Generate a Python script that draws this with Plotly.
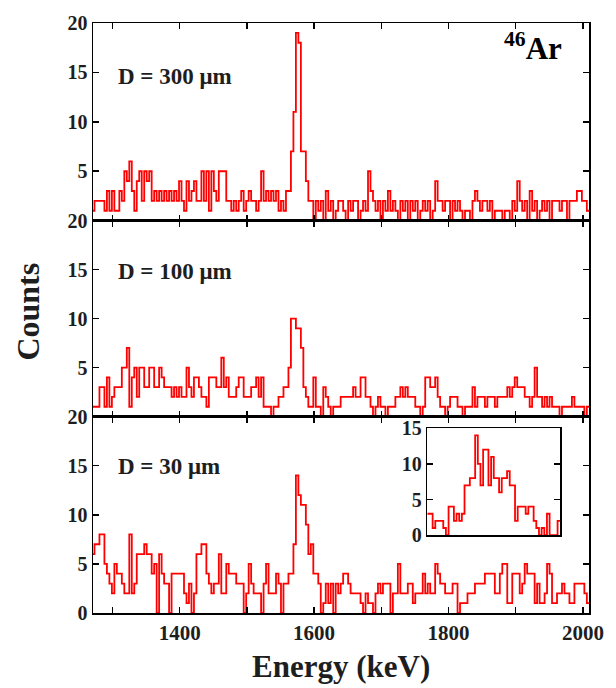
import plotly.graph_objects as go

# ---------------- data ----------------
energy_start = 1269.5  # keV, left edge of first bin
bin_width = 3.7        # keV

counts_300 = [1,2,2,2,2,1, 3,1,3,1,1,3, 2,5,4,6,3, 1, 4,5,2,5,4,5,2,3,
              2,3,2,3,2,3, 2,3,2,4,2,1,4,2,3,4,2,2, 5,2,5,1,5,3,2,5,5,5,
              2,2,1,2,1,2, 3,1,2,3,2,2,1,2, 5, 2,3,2,3,2,3,1,2,1,
              3,3,7,11,19,18,7,7,4,2,
              2,0,2,1,2,0,3,1,2,0,1,2, 2,1,0,2,1,2,2,0,1,2,1, 5,3,
              2,1,2,0,2,1,3,1, 2,1,0,2,1,2,0,2,1,2,0,1,2,1,2,0,1, 4,
              2,2,1,2,2,0,2,1, 2,1,0,1,1,0, 2,3,2,1,2, 2,1,2,0,1,1,
              1,0,1,1,0,2,1, 4, 2,1,2,0, 3, 1,2,0,1,2,1,2,0,2,2,
              2,1,2,2,0,2,2,2,3, 3,2,2,1]

counts_100 = [1,1,1, 3,3, 1, 4, 1, 2, 3,3,3, 5,5, 7, 1, 4, 5, 2, 5,5, 3,
              3,5,5, 3,3, 5, 4, 3,3,3, 2,3,2, 3,2,2, 5, 3, 2, 4,4, 3, 2,2, 1,
              4,4,4, 3,3, 6, 3, 4, 2,2,2, 3, 4,4,2, 2,2,3, 3,4, 2, 4,1,
              1,1,0,1,1, 2,2, 3, 3,
              5,10,10,9,9,7,3,2,1,1,
              4,1, 1,0, 3, 2, 1,0,1, 1,1,2, 2,2,2,2, 3, 2,2, 4,4,2,2,
              1,0,1, 2, 1,1,0,1,1,1, 2,2, 3, 2, 3,2, 2,2,1, 1,0,1,
              4,4, 3,3, 4, 2, 1,1,0,1, 2,2,2, 1,1,0,1,1,1, 3, 1, 2,
              2,2,1,2,2,2,1,2,2,2,2, 3,2,3, 4,3, 3,3,2, 2,1,2, 5,
              2,2,1, 2,1,2,1, 1,1,0,1,1,1,1, 2, 1,1,1,1,0,1]

counts_30 = [6, 7,7, 8,8, 5, 4, 3,2, 5,4,4,3, 2,2, 8, 2, 3, 6,6,6, 7, 6,6,
             4, 5, 0, 6, 4, 3,3, 0, 4,4,4,4,4, 2, 1, 3, 0, 2, 6, 6,7,7,
             4, 3, 2, 3,3, 6, 2,2, 5, 4,4,4, 3,3,3, 0, 2, 5, 3, 2,2,2, 0,
             3, 5, 2,2,2, 4,3, 0, 3,
             3,4,4,7,14,12,11,11,9,6,7,4,4,3,0,1,
             3,1,3,0,3,2,3,4,4,3,2,2,2,2,1,0,2,1,1,0,
             2,3,2,3,3, 3, 0, 2,2, 5, 2,2,2, 3,3, 1, 2,2,2, 4, 2, 3, 2,
             2, 5, 4, 3, 3,2, 2,2, 3,3, 0, 1,1,1, 2,2,2, 3,3,3,3,
             4,4,4,4, 2,2, 4, 5,5, 1,1, 4,4,4, 2, 3, 5, 4,4,4, 1, 3,
             1,1, 2, 5, 4, 1,1, 2,2, 3, 2,2, 1,1, 3,3,3,3, 2, 1]

inset_start = 1530    # keV
inset_bin = 2         # keV
inset_counts = [3,3,1,2,2,2,1,0,4,4,2,3,2,3,7,7,8,8,14,10,7,12,12,7,11,
                8,8,6,8,8,9,7,7,2,4,4,4,3,4,4,2,1,0,1,0,3,0,0,0,2]

panel_labels = ["D = 300 μm", "D = 100 μm", "D = 30 μm"]
x_range = [1271, 2009]
x_tickvals = [1400, 1600, 1800, 2000]
x_ticktext = ["1400", "1600", "1800", "2000"]
x_minor_tick0 = 1300
x_minor_step = 100
y_tickvals_upper = [5, 10, 15, 20]
y_tickvals_lower = [0, 5, 10, 15, 20]
inset_y_tickvals = [0, 5, 10, 15]

# ---------------- figure ----------------
FONT = "Liberation Serif"
RED = "#ff0000"
INK = "#1e1e1e"


def step_xy(start, width, vals):
    xs = [start + width * i for i in range(len(vals) + 1)]
    ys = list(vals) + [vals[-1]]
    return xs, ys


fig = go.Figure()
series = [counts_300, counts_100, counts_30]
for k, vals in enumerate(series):
    xs, ys = step_xy(energy_start, bin_width, vals)
    fig.add_trace(go.Scatter(
        x=xs, y=ys, mode="lines", line=dict(color=RED, width=1.8, shape="hv"),
        xaxis="x" if k == 0 else f"x{k+1}", yaxis="y" if k == 0 else f"y{k+1}",
        showlegend=False, hoverinfo="skip"))

xs, ys = step_xy(inset_start, inset_bin, inset_counts)
fig.add_trace(go.Scatter(
    x=xs, y=ys, mode="lines", line=dict(color=RED, width=1.8, shape="hv"),
    xaxis="x4", yaxis="y4", showlegend=False, hoverinfo="skip"))

tickfont = dict(family=FONT, size=20, color=INK, weight="bold")
xtickfont = dict(family=FONT, size=21, color=INK, weight="bold")

domains = [[0.665, 1.0], [0.333, 0.665], [0.0, 0.333]]
layout = dict(
    width=616, height=688,
    margin=dict(l=93, r=20, t=16, b=75),
    paper_bgcolor="white", plot_bgcolor="white",
    showlegend=False,
)
for k in range(3):
    xname = "xaxis" if k == 0 else f"xaxis{k+1}"
    yname = "yaxis" if k == 0 else f"yaxis{k+1}"
    ya = "y" if k == 0 else f"y{k+1}"
    xa = "x" if k == 0 else f"x{k+1}"
    layout[xname] = dict(
        domain=[0, 1], anchor=ya, range=x_range,
        tickmode="array", tickvals=x_tickvals, ticktext=x_ticktext,
        showticklabels=(k == 2), tickfont=xtickfont,
        ticks="inside", ticklen=6, tickwidth=1.5, tickcolor="black",
        minor=dict(ticks="inside", tick0=x_minor_tick0, dtick=x_minor_step,
                   ticklen=6, tickwidth=1.5, tickcolor="black"),
        showline=True, linecolor="black", linewidth=1.5, mirror="ticks",
        showgrid=False, zeroline=False)
    layout[yname] = dict(
        domain=domains[k], anchor=xa, range=[0, 20],
        tickvals=y_tickvals_lower if k == 2 else y_tickvals_upper,
        tickfont=tickfont,
        ticks="inside", ticklen=6, tickwidth=1.5, tickcolor="black",
        showline=True, linecolor="black", linewidth=1.5, mirror="ticks",
        showgrid=False, zeroline=False)

layout["xaxis4"] = dict(
    domain=[0.674, 0.942], anchor="y4",
    range=[inset_start, inset_start + inset_bin * len(inset_counts)],
    showticklabels=False, ticks="",
    showline=True, linecolor="black", linewidth=1.5, mirror=True,
    showgrid=False, zeroline=False)
layout["yaxis4"] = dict(
    domain=[0.132, 0.313], anchor="x4", range=[0, 15],
    tickvals=inset_y_tickvals, tickfont=tickfont,
    ticks="inside", ticklen=6, tickwidth=1.5, tickcolor="black",
    showline=True, linecolor="black", linewidth=1.5, mirror="ticks",
    showgrid=False, zeroline=False)

fig.update_layout(**layout)

annots = []
label_y = [0.9095, 0.578, 0.248]
for lab, yy in zip(panel_labels, label_y):
    annots.append(dict(text=lab, x=0.046, y=yy, xref="paper", yref="paper",
                       xanchor="left", yanchor="middle", showarrow=False,
                       font=dict(family=FONT, size=23, color=INK, weight="bold")))
annots.append(dict(text="<sup>46</sup>Ar", x=0.95, y=0.997, xref="paper", yref="paper",
                   xanchor="right", yanchor="top", showarrow=False,
                   font=dict(family=FONT, size=31, color="black", weight="bold")))
annots.append(dict(text="Counts", x=-0.13, y=0.51, xref="paper", yref="paper",
                   xanchor="center", yanchor="middle", showarrow=False, textangle=-90,
                   font=dict(family=FONT, size=32, color=INK, weight="bold")))
annots.append(dict(text="Energy (keV)", x=0.5, y=-0.09, xref="paper", yref="paper",
                   xanchor="center", yanchor="middle", showarrow=False,
                   font=dict(family=FONT, size=31, color=INK, weight="bold")))
fig.update_layout(annotations=annots)

fig.write_html("out.html", config={"displayModeBar": False, "staticPlot": True},
               post_script="document.body.style.margin='0';")
